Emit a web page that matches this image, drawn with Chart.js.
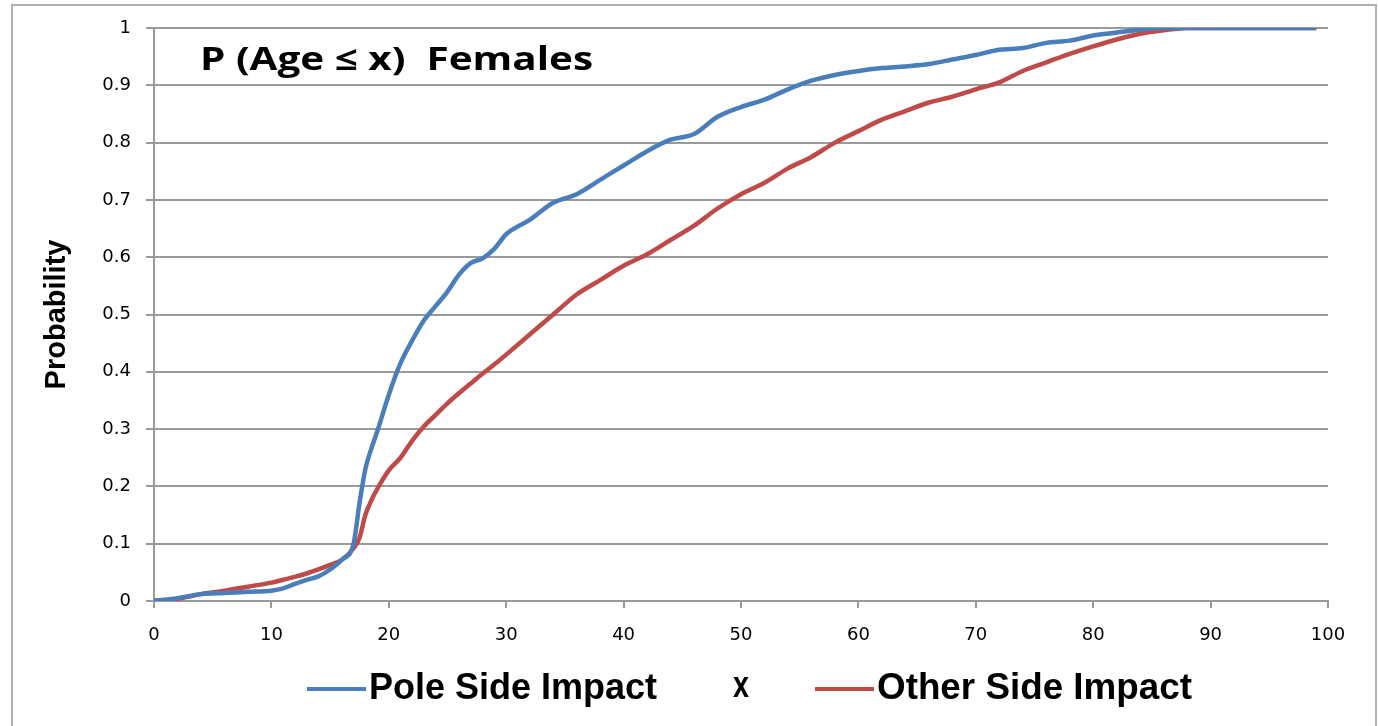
<!DOCTYPE html>
<html>
<head>
<meta charset="utf-8">
<title>P (Age ≤ x) Females</title>
<script src="https://cdn.jsdelivr.net/npm/chart.js@4.4.1/dist/chart.umd.min.js"></script>
<style>
  html, body { margin: 0; padding: 0; background: #fff; }
  #wrap { width: 1378px; height: 726px; position: relative; }
</style>
</head>
<body>
<div id="wrap"><canvas id="chart" width="1378" height="726"></canvas></div>
<script>
// data
const ages = [0, 2, 4, 6, 8, 10, 11, 12, 13, 14, 15, 16, 17, 17.5, 18, 18.5, 19, 20, 21, 22, 23, 24, 25, 26, 27, 28, 29, 30,
  32, 34, 36, 38, 40, 42, 44, 46, 48, 50, 52, 54, 56, 58, 60, 62, 64, 66, 68, 70, 72, 74, 76, 78, 80, 82, 84, 86, 88, 90, 95, 99];
const poleSide = [0, 0.005, 0.012, 0.014, 0.016, 0.018, 0.022, 0.03, 0.037, 0.043, 0.055, 0.072, 0.1, 0.17, 0.23, 0.265, 0.295, 0.36, 0.415, 0.455, 0.49, 0.515, 0.54, 0.57, 0.59, 0.598, 0.615, 0.64,
  0.665, 0.695, 0.71, 0.735, 0.76, 0.785, 0.805, 0.815, 0.845, 0.862, 0.875, 0.893, 0.908, 0.918, 0.925, 0.93, 0.933, 0.937, 0.945, 0.953, 0.962, 0.965, 0.974, 0.978, 0.987, 0.992, 0.997, 1, 1, 1, 1, 1];
const otherSide = [0, 0.004, 0.012, 0.018, 0.025, 0.032, 0.037, 0.042, 0.048, 0.055, 0.063, 0.072, 0.092, 0.11, 0.15, 0.175, 0.195, 0.228, 0.25, 0.28, 0.305, 0.325, 0.345, 0.363, 0.38, 0.397, 0.413, 0.43,
  0.465, 0.5, 0.535, 0.56, 0.585, 0.605, 0.63, 0.655, 0.685, 0.71, 0.73, 0.755, 0.775, 0.8, 0.82, 0.84, 0.855, 0.87, 0.88, 0.893, 0.905, 0.925, 0.94, 0.955, 0.968, 0.98, 0.99, 0.996, 1, 1, 1, 1];
const seriesNames = ['Pole Side Impact', 'Other Side Impact'];
const xTitle = 'x';
const yTitle = 'Probability';
const plotTitle = 'P (Age ≤ x)  Females';

const BLUE = '#4a7ebb', RED = '#be4b48', GRID = '#9a9a9a';
const narrow = '"Liberation Sans Narrow", "Liberation Sans", Arial, sans-serif';

const toPoints = ys => ages.map((a, i) => ({ x: a, y: ys[i] }));

// draws text squeezed/stretched to a given width
function fitText(ctx, txt, x, y, w) {
  const m = ctx.measureText(txt).width;
  ctx.save();
  ctx.translate(x, y);
  ctx.scale(w / m, 1);
  ctx.fillText(txt, 0, 0);
  ctx.restore();
}

const extras = {
  id: 'extras',
  beforeDraw(chart) {
    const ctx = chart.ctx;
    ctx.save();
    ctx.strokeStyle = '#b0b0b0';
    ctx.lineWidth = 2;
    ctx.strokeRect(12, 5, 1364, 760);
    ctx.restore();
  },
  afterDraw(chart) {
    const ctx = chart.ctx, a = chart.chartArea;
    ctx.save();
    ctx.fillStyle = '#000';
    ctx.textBaseline = 'alphabetic';
    ctx.font = 'bold 32px "Open Sans", sans-serif';
    fitText(ctx, plotTitle, a.left + 46, 70, 393);

    // legend row with axis title in the middle
    const ly = 689;
    ctx.lineWidth = 4;
    ctx.strokeStyle = BLUE;
    ctx.beginPath(); ctx.moveTo(307, ly); ctx.lineTo(366, ly); ctx.stroke();
    ctx.strokeStyle = RED;
    ctx.beginPath(); ctx.moveTo(815, ly); ctx.lineTo(874, ly); ctx.stroke();
    ctx.font = 'bold 36px ' + narrow;
    ctx.textBaseline = 'middle';
    fitText(ctx, seriesNames[0], 369, ly, 288);
    fitText(ctx, xTitle, 733, ly - 2, 16);
    fitText(ctx, seriesNames[1], 877, ly, 315);
    ctx.restore();
  }
};

new Chart(document.getElementById('chart'), {
  type: 'line',
  data: {
    datasets: [
      { label: seriesNames[0], data: toPoints(poleSide), borderColor: BLUE, borderWidth: 4.5, pointRadius: 0, cubicInterpolationMode: 'monotone', fill: false },
      { label: seriesNames[1], data: toPoints(otherSide), borderColor: RED, borderWidth: 4.5, pointRadius: 0, cubicInterpolationMode: 'monotone', fill: false }
    ]
  },
  options: {
    responsive: false,
    animation: false,
    layout: { padding: { left: 40, right: 50, top: 28, bottom: 65 } },
    plugins: { legend: { display: false }, tooltip: { enabled: false } },
    scales: {
      x: {
        type: 'linear', min: 0, max: 100,
        ticks: { stepSize: 10, color: '#000', padding: 17, font: { family: '"DejaVu Sans"', size: 18 } },
        grid: { drawOnChartArea: false, drawTicks: true, tickLength: 7, color: GRID, lineWidth: 2 },
        border: { color: GRID, width: 2 },
        afterFit: s => { s.height = 60; }
      },
      y: {
        min: 0, max: 1,
        ticks: { stepSize: 0.1, color: '#000', padding: 15, font: { family: '"DejaVu Sans"', size: 18 },
          callback: v => String(+v.toFixed(1)) },
        grid: { color: GRID, lineWidth: 2, tickLength: 8 },
        border: { color: GRID, width: 2 },
        title: { display: true, text: yTitle, color: '#000', padding: { top: 0, bottom: 0 }, font: { family: narrow, size: 29, weight: 'bold' } },
        afterFit: s => { s.width = 114; }
      }
    }
  },
  plugins: [extras]
});
</script>
</body>
</html>
